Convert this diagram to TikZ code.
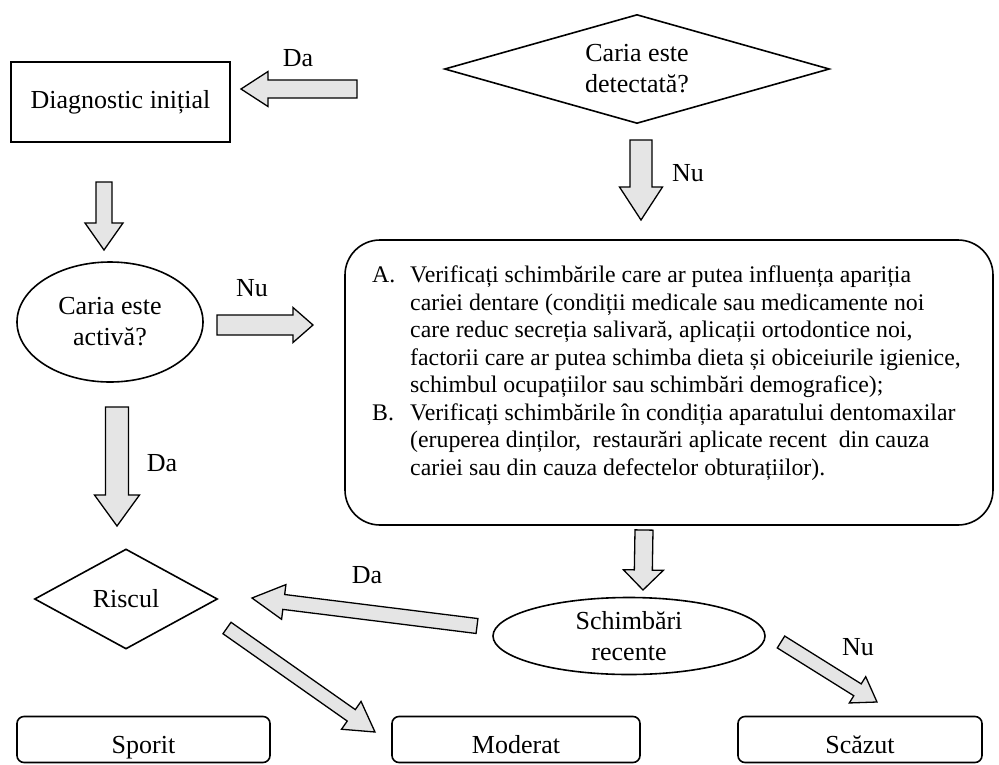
\documentclass[tikz,border=0pt]{standalone}
\usepackage{fontspec}
\setmainfont{Liberation Serif}
\usetikzlibrary{shapes.geometric,calc}

\tikzset{
  shp/.style={draw=black, line width=1.6pt, fill=white, align=center,
    inner sep=0pt, font=\fontsize{26}{31}\selectfont},
  plainbox/.style={shp, rectangle},
  resbox/.style={shp, rectangle, rounded corners=7pt, minimum height=46pt,
    text height=30pt, text depth=3pt},
  decision/.style={shp, diamond},
  oval/.style={shp, ellipse},
  lbl/.style={inner sep=0pt, font=\fontsize{26}{31}\selectfont},
  barrow/.style={draw=black, line width=1.3pt, fill=gray!20, line join=miter},
}

% hollow block arrow: tail, tip, half body width, half head width, head length
\newcommand\blockarr[5]{%
  \coordinate (arrhead) at ($(#2)!#5!(#1)$);
  \draw[barrow] ($(#1)!#3!90:(#2)$) -- ($(arrhead)!#3!-90:(#1)$)
    -- ($(arrhead)!#4!-90:(#1)$) -- (#2) -- ($(arrhead)!#4!90:(#1)$)
    -- ($(arrhead)!#3!90:(#1)$) -- ($(#1)!#3!-90:(#2)$) -- cycle;
}

\begin{document}
\begin{tikzpicture}[x=1pt, y=-1pt]
\fill[white] (0,0) rectangle (999,764);
\useasboundingbox (0,0) rectangle (999,764);

% nodes
\node[plainbox, minimum width=219pt, minimum height=80pt] (diag) at (120.5,102) {Diagnostic inițial};
\node[decision, minimum width=385pt, minimum height=109pt, aspect=3.5] (det) at (637,69) {Caria este\\detectată?};
\node[oval, minimum width=186pt, minimum height=120pt] (act) at (110,322) {Caria este\\activă?};
\node[decision, minimum width=183pt, minimum height=100pt, aspect=1.8] (risc) at (126,599) {Riscul};
\node[draw=black, line width=1.6pt, rounded corners=35pt, minimum width=648pt, minimum height=285pt] (big) at (669,382.5) {};
\node[anchor=north west, align=left, inner sep=0pt, font=\fontsize{23.8}{27.5}\selectfont] (bigtxt) at (372,266) {%
  \makebox[38pt][l]{A.}Verificați schimbările care ar putea influența apariția\\
  \hspace*{38pt}cariei dentare (condiții medicale sau medicamente noi\\
  \hspace*{38pt}care reduc secreția salivară, aplicații ortodontice noi,\\
  \hspace*{38pt}factorii care ar putea schimba dieta și obiceiurile igienice,\\
  \hspace*{38pt}schimbul ocupațiilor sau schimbări demografice);\\
  \makebox[38pt][l]{B.}Verificați schimbările în condiția aparatului dentomaxilar\\
  \hspace*{38pt}(eruperea dinților,\ \ restaurări aplicate recent\ \ din cauza\\
  \hspace*{38pt}cariei sau din cauza defectelor obturațiilor).};
\node[oval, minimum width=272pt, minimum height=77pt] (sch) at (629,636) {Schimbări\\recente};
\node[resbox, minimum width=253pt] (spor) at (143.5,739.5) {Sporit};
\node[resbox, minimum width=248pt] (mod) at (516,739.5) {Moderat};
\node[resbox, minimum width=244pt] (scaz) at (860,739.5) {Scăzut};

% connector labels
\node[lbl] (daDet) at (298,58) {Da};
\node[lbl] (nuDet) at (688,173) {Nu};
\node[lbl] (nuAct) at (252,288) {Nu};
\node[lbl] (daAct) at (162,463) {Da};
\node[lbl] (daSch) at (367,575) {Da};
\node[lbl] (nuSch) at (858,647) {Nu};

% arrow ends
\coordinate (detYesT) at (357,89);   \coordinate (detYesH) at (241,89);
\coordinate (diagT) at (104,182);    \coordinate (diagH) at (104,250);
\coordinate (detNoT) at (641,140);   \coordinate (detNoH) at (641,220);
\coordinate (actNoT) at (217,325);   \coordinate (actNoH) at (313,325);
\coordinate (actYesT) at (117,407);  \coordinate (actYesH) at (117,526);
\coordinate (bigT) at (644,530);     \coordinate (bigH) at (643,590);
\coordinate (schYesT) at (477,626);  \coordinate (schYesH) at (252,598);
\coordinate (riscT) at (227,628);    \coordinate (riscH) at (375,732);
\coordinate (schNoT) at (781,642);   \coordinate (schNoH) at (877,702);

% block arrows
\blockarr{detYesT}{detYesH}{9pt}{17.5pt}{27pt}
\blockarr{diagT}{diagH}{8pt}{19pt}{27pt}
\blockarr{detNoT}{detNoH}{11pt}{21.5pt}{33pt}
\blockarr{actNoT}{actNoH}{10pt}{17.5pt}{20pt}
\blockarr{actYesT}{actYesH}{11.5pt}{22.5pt}{31pt}
\blockarr{bigT}{bigH}{9pt}{20pt}{20pt}
\blockarr{schYesT}{schYesH}{7.5pt}{17.5pt}{32pt}
\blockarr{riscT}{riscH}{7pt}{17pt}{29pt}
\blockarr{schNoT}{schNoH}{7pt}{15.5pt}{23pt}
\end{tikzpicture}
\end{document}
